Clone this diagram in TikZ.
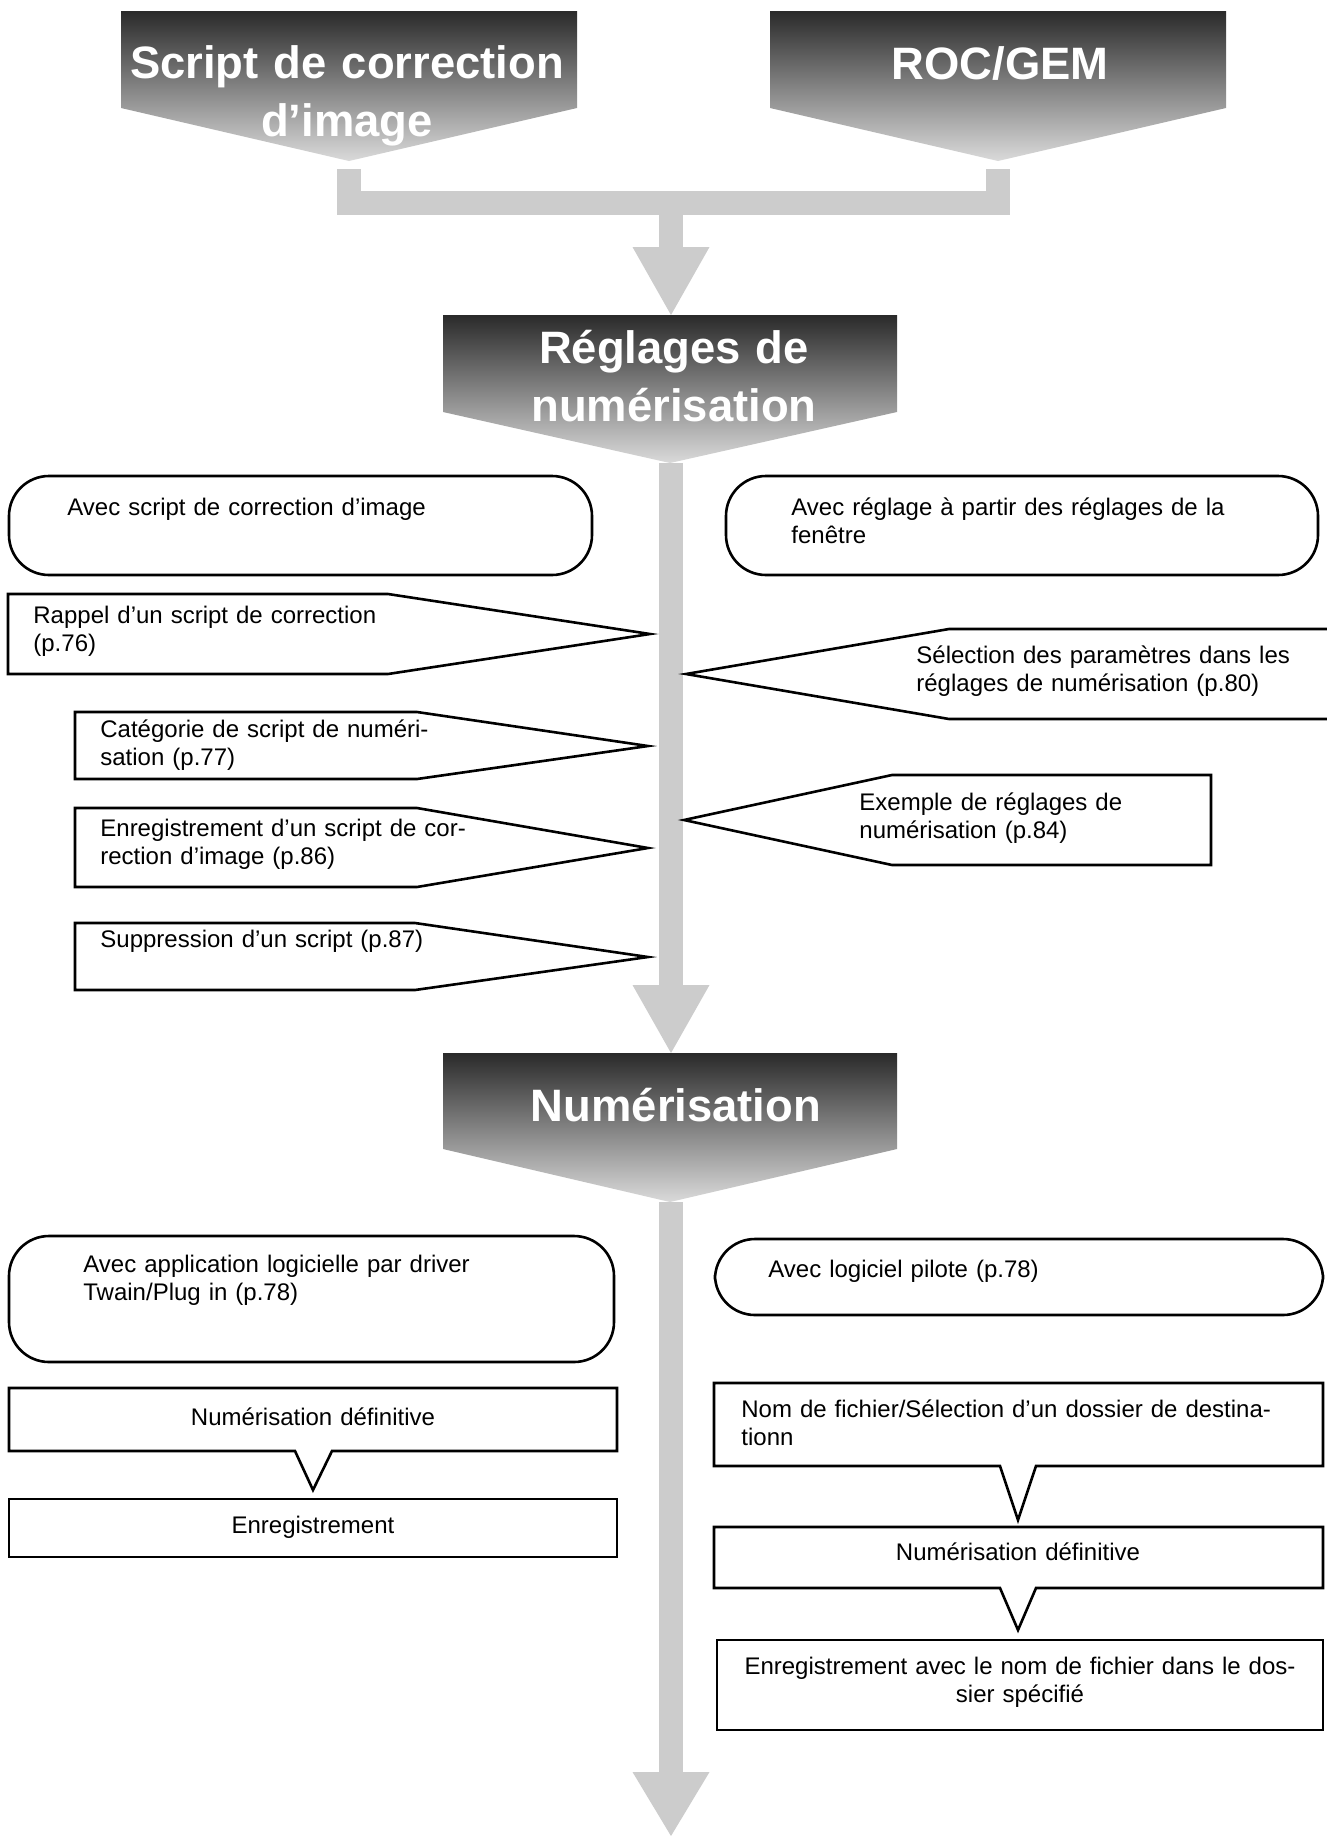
\documentclass[tikz,border=0pt]{standalone}
\usepackage{fontspec}
\setmainfont{Liberation Sans}
\definecolor{flowgray}{RGB}{204,204,204}
\definecolor{hdtop}{RGB}{42,42,42}
\definecolor{hdbot}{RGB}{218,218,218}
\newcommand{\bodysize}{\fontsize{12}{14}\selectfont}
\newcommand{\headsize}{\fontsize{22.7}{29}\selectfont\bfseries}

\begin{document}
\begin{tikzpicture}[x=0.5pt,y=-0.5pt,
    stem/.style={draw=flowgray, line width=12pt},
    header/.style={top color=hdtop, bottom color=hdbot},
    hdtext/.style={text=white, font=\headsize, align=center, text width=235pt, inner sep=0pt, anchor=base},
    box/.style={draw=black, line width=1.3pt, fill=white},
    txt/.style={font=\bodysize, align=left, text width=300pt, inner sep=0pt, anchor=base west},
    ctxt/.style={font=\bodysize, align=center, text width=290pt, inner sep=0pt, anchor=base}]
    % Page
    \fill[white] (0,0) rectangle (1327,1836);
    \useasboundingbox (0,0) rectangle (1327,1836);
    \clip (0,0) rectangle (1327,1836);

    % Flow points
    \coordinate (scriptOut) at (349,169);
    \coordinate (rocOut) at (998,169);
    \coordinate (barMid) at (671,203);
    \coordinate (reglTop) at (671,315);
    \coordinate (reglTip) at (671,463);
    \coordinate (numTop) at (671,1053);
    \coordinate (numTip) at (671,1202);
    \coordinate (flowEnd) at (671,1836);

    % Grey flow arrows
    \draw[stem] (scriptOut) |- (barMid) -| (rocOut);
    \draw[stem] (barMid) -- ([yshift=34pt]reglTop);
    \fill[flowgray] (reglTop) -- ++(-38.5,-68) -- ++(77,0) -- cycle;
    \draw[stem] (reglTip) -- ([yshift=34pt]numTop);
    \fill[flowgray] (numTop) -- ++(-38.5,-68) -- ++(77,0) -- cycle;
    \draw[stem] (numTip) -- ([yshift=32pt]flowEnd);
    \fill[flowgray] (flowEnd) -- ++(-38.5,-64) -- ++(77,0) -- cycle;

    % Headers
    \shade[header] (121,11) -- (577,11) -- (577,108) -- (349,161) -- (121,108) -- cycle;
    \node[hdtext] (scriptHd) at (347,78) {Script de correction\\d’image};
    \shade[header] (770,11) -- (1226,11) -- (1226,108) -- (998,161) -- (770,108) -- cycle;
    \node[hdtext] (rocHd) at (1000,79) {ROC/GEM};
    \shade[header] (443,315) -- (897,315) -- (897,412) -- (670,463) -- (443,412) -- cycle;
    \node[hdtext] (reglHd) at (674,363) {Réglages de\\numérisation};
    \shade[header] (443,1053) -- (897,1053) -- (897,1149) -- (670,1202) -- (443,1149) -- cycle;
    \node[hdtext] (numHd) at (676,1121) {Numérisation};

    % Scan settings
    \draw[box, rounded corners=20pt] (9,476) rectangle (592,575);
    \node[txt] (avecScript) at (67,515) {Avec script de correction d’image};
    \draw[box, rounded corners=20pt] (726,476) rectangle (1318,575);
    \node[txt] (avecRegl) at (791,515) {Avec réglage à partir des réglages de la\\fenêtre};

    \draw[box] (8,594) -- (388,594) -- (650,634) -- (388,674) -- (8,674) -- cycle;
    \node[txt] (rappel) at (33,623) {Rappel d’un script de correction\\(p.76)};
    \draw[box] (75,712) -- (417,712) -- (648,746) -- (417,779) -- (75,779) -- cycle;
    \node[txt] (categ) at (100,737) {Catégorie de script de numéri-\\sation (p.77)};
    \draw[box] (75,808) -- (417,808) -- (648,848) -- (417,887) -- (75,887) -- cycle;
    \node[txt] (enregScript) at (100,836) {Enregistrement d’un script de cor-\\rection d’image (p.86)};
    \draw[box] (75,923) -- (415,923) -- (648,957) -- (415,990) -- (75,990) -- cycle;
    \node[txt] (suppr) at (100,947) {Suppression d’un script (p.87)};

    \draw[box] (1340,629) -- (949,629) -- (686,674) -- (949,719) -- (1340,719);
    \node[txt] (selection) at (916,663) {Sélection des paramètres dans les\\réglages de numérisation (p.80)};
    \draw[box] (1211,775) -- (892,775) -- (684,820) -- (892,865) -- (1211,865) -- cycle;
    \node[txt] (exemple) at (859,810) {Exemple de réglages de\\numérisation (p.84)};

    % Scanning
    \draw[box, rounded corners=20pt] (9,1236) rectangle (614,1362);
    \node[txt] (avecAppli) at (83,1272) {Avec application logicielle par driver\\Twain/Plug in (p.78)};
    \draw[box] (9,1388) -- (617,1388) -- (617,1451) -- (332,1451) -- (313,1490) -- (295,1451) -- (9,1451) -- cycle;
    \node[ctxt] (numDefG) at (313,1425) {Numérisation définitive};
    \draw[box] (9,1499) rectangle (617,1557);
    \node[ctxt] (enregG) at (313,1533) {Enregistrement};

    \draw[box, rounded corners=20pt] (715,1239) rectangle (1323,1315);
    \node[txt] (avecPilote) at (768,1277) {Avec logiciel pilote (p.78)};
    \draw[box] (714,1383) -- (1323,1383) -- (1323,1466) -- (1036,1466) -- (1018,1520) -- (1000,1466) -- (714,1466) -- cycle;
    \node[txt] (nomFich) at (741,1417) {Nom de fichier/Sélection d’un dossier de destina-\\tionn};
    \draw[box] (714,1527) -- (1323,1527) -- (1323,1588) -- (1036,1588) -- (1018,1630) -- (1000,1588) -- (714,1588) -- cycle;
    \node[ctxt] (numDefD) at (1018,1560) {Numérisation définitive};
    \draw[box] (717,1640) rectangle (1323,1730);
    \node[ctxt] (enregD) at (1020,1674) {Enregistrement avec le nom de fichier dans le dos-\\sier spécifié};
\end{tikzpicture}
\end{document}
